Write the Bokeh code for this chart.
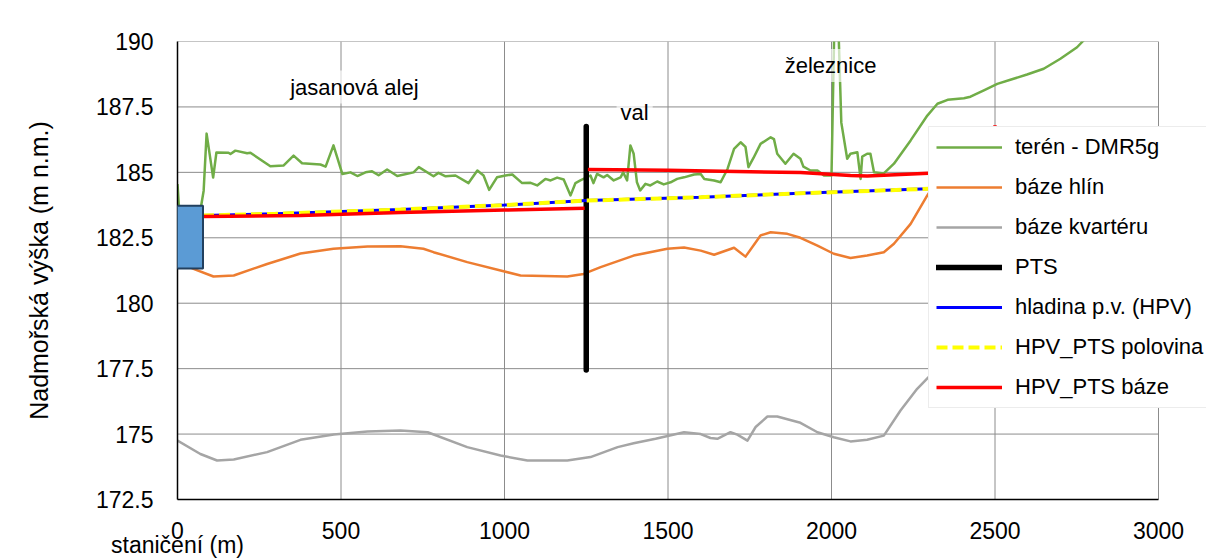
from bokeh.plotting import figure
from bokeh.models import Legend, LegendItem, Label, BoxAnnotation, FixedTicker, Range1d
from bokeh.embed import file_html
from bokeh.resources import INLINE

nan = float("nan")
FONT = "Liberation Sans"

# ---------------- data ----------------
x_ticks = [0, 500, 1000, 1500, 2000, 2500, 3000]
y_ticks = [172.5, 175.0, 177.5, 180.0, 182.5, 185.0, 187.5, 190.0]
y_tick_labels = ["172.5", "175", "177.5", "180", "182.5", "185", "187.5", "190"]

teren_x = [0, 6, 68, 80, 89, 109, 119, 156, 162, 177, 213, 223, 284, 324, 355, 381, 437, 453,
           477, 504, 529, 550, 575, 595, 615, 641, 672, 722, 738, 783, 798, 820, 850, 890,
           917, 936, 953, 977, 1003, 1024, 1054, 1080, 1100, 1125, 1141, 1161, 1181, 1202,
           1217, 1232, 1263, 1272, 1283, 1303, 1314, 1334, 1355, 1363, 1375, 1385, 1395,
           1405, 1415, 1431, 1446, 1467, 1487, 1508, 1528, 1549, 1580, 1600, 1611, 1641,
           1661, 1682, 1702, 1722, 1737, 1746, 1761, 1783, 1814, 1824, 1834, 1859, 1884,
           1905, 1914, 1936, 1957, 1977, 2000, 2010, 2022, 2030, 2048, 2058, 2079, 2089,
           2094, 2109, 2119, 2130, 2160, 2191, 2242, 2293, 2324, 2355, 2405, 2425, 2466,
           2507, 2547, 2598, 2649, 2700, 2751, 2771, 2800]
teren_y = [184.55, 183.4, 183.4, 184.3, 186.48, 184.8, 185.76, 185.75, 185.7, 185.83, 185.73,
           185.75, 185.23, 185.26, 185.64, 185.35, 185.3, 185.22, 186.03, 184.94, 185.0,
           184.86, 185.0, 185.04, 184.89, 185.11, 184.86, 185.0, 185.2, 184.85, 184.98,
           184.85, 184.88, 184.59, 185.07, 184.88, 184.33, 184.81, 184.88, 184.92, 184.59,
           184.6, 184.5, 184.75, 184.69, 184.8, 184.73, 184.12, 184.59, 184.69, 184.88,
           184.59, 184.94, 184.81, 184.9, 184.69, 184.81, 185.0, 184.69, 186.03, 185.71,
           184.62, 184.31, 184.56, 184.5, 184.65, 184.54, 184.62, 184.75, 184.81, 184.92,
           184.94, 184.75, 184.69, 184.62, 185.13, 185.9, 186.15, 185.97, 185.2, 185.54,
           186.09, 186.34, 186.27, 185.71, 185.33, 185.71, 185.52, 185.22, 185.07, 185.07,
           184.88, 184.88, 191.5, 190.2, 186.9, 185.52, 185.71, 185.77, 184.75, 185.6,
           185.71, 185.71, 185.0, 184.96, 185.33, 186.22, 187.17, 187.62, 187.77, 187.83,
           187.89, 188.13, 188.38, 188.54, 188.74, 188.96, 189.34, 189.78, 190.04, 190.6]

hlin_x = [0, 45, 110, 172, 274, 376, 477, 581, 682, 752, 783, 886, 988, 1049, 1192, 1242,
          1294, 1395, 1498, 1549, 1600, 1641, 1702, 1737, 1783, 1814, 1865, 1905, 1957,
          2007, 2058, 2109, 2160, 2191, 2242, 2293, 2350, 2400]
hlin_y = [181.8, 181.33, 181.02, 181.06, 181.5, 181.9, 182.08, 182.17, 182.18, 182.08,
          181.95, 181.57, 181.25, 181.06, 181.02, 181.12, 181.38, 181.82, 182.08, 182.13,
          182.01, 181.85, 182.12, 181.78, 182.59, 182.71, 182.65, 182.5, 182.2, 181.89,
          181.73, 181.82, 181.95, 182.27, 183.03, 184.12, 185.2, 185.8]

kvarter_x = [0, 70, 121, 172, 274, 376, 478, 581, 682, 765, 886, 988, 1070, 1192, 1263, 1346,
             1395, 1462, 1549, 1600, 1630, 1651, 1691, 1712, 1743, 1768, 1804, 1834, 1905,
             1957, 2007, 2058, 2109, 2160, 2211, 2262, 2296, 2400]
kvarter_y = [174.75, 174.24, 173.99, 174.03, 174.31, 174.78, 174.98, 175.1, 175.14, 175.07,
             174.5, 174.18, 173.99, 173.99, 174.12, 174.5, 174.65, 174.82, 175.07, 175.0,
             174.85, 174.82, 175.07, 174.98, 174.75, 175.27, 175.67, 175.67, 175.43, 175.07,
             174.88, 174.72, 174.78, 174.94, 175.9, 176.73, 177.17, 178.6]

pts_x = [1250, 1250]
pts_y = [177.45, 186.75]

hpv_x = [78, 300, 682, 1000, 1250, 1600, 1905, 2296, 2500]
hpv_y = [183.35, 183.42, 183.58, 183.75, 183.92, 184.05, 184.2, 184.37, 184.45]

polovina_x = [78, 300, 682, 1000, 1250, 1600, 1905, 2296, 2500]
polovina_y = [183.35, 183.42, 183.58, 183.75, 183.92, 184.05, 184.2, 184.37, 184.45]

baze_x = [78, 376, 682, 1000, 1245, nan, 1255, 1500, 1905, 2058, 2109, 2211, 2296, 2495, 2500]
baze_y = [183.31, 183.35, 183.47, 183.56, 183.63, nan, 185.11, 185.08, 184.99, 184.88,
          184.86, 184.92, 184.97, 185.0, 186.8]

box_x = [-15, 78]
box_y = [181.33, 183.72]

notes = ["jasanová alej", "val", "železnice"]
notes_x = [541, 1398, 1997]
notes_y = [188.26, 187.30, 189.08]

series_names = ["terén - DMR5g", "báze hlín", "báze kvartéru", "PTS",
                "hladina p.v. (HPV)", "HPV_PTS polovina", "HPV_PTS báze"]

# ---------------- layout geometry (pixels) ----------------
W, H = 1206, 560
FRAME_L, FRAME_T, FRAME_B = 177, 41, 499
AXIS_R = 1158          # pixel of x = 3000
x_end = x_ticks[-1] * (W - FRAME_L) / (AXIS_R - FRAME_L)   # frame runs to canvas edge

p = figure(width=W, height=H, output_backend="svg", toolbar_location=None,
           x_range=Range1d(0, x_end), y_range=Range1d(y_ticks[0], y_ticks[-1]),
           min_border_left=FRAME_L, min_border_right=0, min_border_top=FRAME_T,
           min_border_bottom=H - FRAME_B, background_fill_color="white",
           border_fill_color="white")

p.outline_line_color = None
p.grid.visible = False

# grid lines limited to the data area (0..3000, 172.5..190)
p.segment(x0=x_ticks, y0=[y_ticks[0]] * len(x_ticks), x1=x_ticks, y1=[y_ticks[-1]] * len(x_ticks),
          line_color="#8c8c8c", line_width=1)
p.segment(x0=[x_ticks[0]] * len(y_ticks), y0=y_ticks, x1=[x_ticks[-1]] * len(y_ticks), y1=y_ticks,
          line_color="#8c8c8c", line_width=1)

p.xaxis.ticker = FixedTicker(ticks=x_ticks)
p.yaxis.ticker = FixedTicker(ticks=y_ticks)
p.yaxis.major_label_overrides = {t: s for t, s in zip(y_ticks, y_tick_labels)}
p.xaxis.bounds = (x_ticks[0], x_ticks[-1])

for ax in (p.xaxis, p.yaxis):
    ax.axis_line_color = "black"
    ax.axis_line_width = 1.5
    ax.major_tick_line_color = None
    ax.minor_tick_line_color = None
    ax.major_tick_out = 0
    ax.major_tick_in = 0
    ax.major_label_text_font = FONT
    ax.major_label_text_font_size = "23px"
    ax.major_label_text_color = "black"
    ax.axis_label_text_font = FONT
    ax.axis_label_text_font_style = "normal"
    ax.axis_label_text_color = "black"

p.xaxis.major_label_standoff = 22
p.yaxis.major_label_standoff = 24

p.yaxis.axis_label = "Nadmořská výška (m n.m.)"
p.yaxis.axis_label_text_font_size = "25px"
p.yaxis.axis_label_standoff = 40

p.xaxis.axis_label = "staničení (m)"
p.xaxis.axis_label_text_font_size = "23px"
p.xaxis.axis_label_standoff = -10
p.xaxis.axis_label_align = "start"
p.xaxis.axis_label_text_align = "right"

r_teren = p.line(teren_x, teren_y, line_color="#70ad47", line_width=2.5, line_join="round")
r_hlin = p.line(hlin_x, hlin_y, line_color="#ed7d31", line_width=2.5, line_join="round")
r_kv = p.line(kvarter_x, kvarter_y, line_color="#a5a5a5", line_width=2.5, line_join="round")
r_pts = p.line(pts_x, pts_y, line_color="black", line_width=5.5, line_cap="round")
r_hpv = p.line(hpv_x, hpv_y, line_color="#0000ff", line_width=3)
r_pol = p.line(polovina_x, polovina_y, line_color="#ffff00", line_width=4, line_dash="11 5")
r_baze = p.line(baze_x, baze_y, line_color="#ff0000", line_width=3.5)

box = BoxAnnotation(left=box_x[0], right=box_x[1], bottom=box_y[0], top=box_y[1],
                    fill_color="#5b9bd5", fill_alpha=1.0, line_color="#22405f",
                    line_width=2, line_alpha=1.0)
p.add_layout(box)

for t, nx, ny in zip(notes, notes_x, notes_y):
    p.add_layout(Label(x=nx, y=ny, text=t, text_align="center", text_baseline="alphabetic",
                       text_font=FONT, text_font_size="22px", text_color="black",
                       background_fill_color="white", background_fill_alpha=0.65,
                       padding=4))

renderers = [r_teren, r_hlin, r_kv, r_pts, r_hpv, r_pol, r_baze]
legend = Legend(items=[LegendItem(label=n, renderers=[r]) for n, r in zip(series_names, renderers)],
                location=(751, 91), orientation="vertical",
                label_text_font=FONT, label_text_font_size="22px", label_text_color="black",
                glyph_width=66, glyph_height=26, label_height=26, spacing=14, padding=7,
                label_standoff=13, margin=0, border_line_color="#d9d9d9", border_line_width=1,
                background_fill_color="white", background_fill_alpha=1.0)
p.add_layout(legend)

open("out.html", "w").write(file_html(p, INLINE))
